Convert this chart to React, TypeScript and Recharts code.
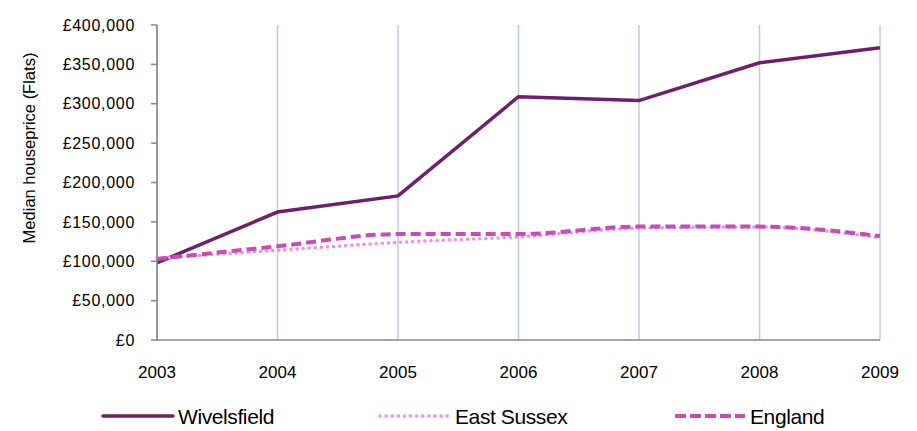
import React from 'react';
import {
  LineChart,
  Line,
  XAxis,
  YAxis,
  CartesianGrid,
  Legend,
  Label,
} from 'recharts';

const YEARS = ['2003', '2004', '2005', '2006', '2007', '2008', '2009'];
const WIVELSFIELD = [98000, 162500, 183000, 309000, 304000, 352000, 371000];
const EAST_SUSSEX = [104000, 114000, 124000, 131000, 142000, 143500, 130000];
const ENGLAND = [103000, 119000, 134500, 134500, 144000, 144000, 132000];
const Y_TICKS = [0, 50000, 100000, 150000, 200000, 250000, 300000, 350000, 400000];

const data = YEARS.map((year, i) => ({
  year,
  wivelsfield: WIVELSFIELD[i],
  eastSussex: EAST_SUSSEX[i],
  england: ENGLAND[i],
}));

const FONT = '"Liberation Sans", Arial, sans-serif';
const AXIS = '#868686';

const SERIES = [
  { key: 'wivelsfield', name: 'Wivelsfield', color: '#6E1F6C', width: 3.5, dash: undefined as string | undefined, cap: 'round', x: 103 },
  { key: 'eastSussex', name: 'East Sussex', color: '#F48AEE', width: 3.5, dash: '0.1 6', cap: 'round', x: 380 },
  { key: 'england', name: 'England', color: '#C94BB6', width: 4, dash: '11 4', cap: 'butt', x: 675 },
];

const money = (v: number) => '£' + v.toLocaleString('en-GB');

function renderLegend() {
  return (
    <svg width={917} height={30}>
      {SERIES.map((s) => (
        <g key={s.key}>
          <line
            x1={s.x}
            x2={s.x + 70}
            y1={16}
            y2={16}
            stroke={s.color}
            strokeWidth={s.width}
            strokeDasharray={s.dash}
            strokeLinecap={s.cap as 'round' | 'butt'}
          />
          <text
            x={s.x + 75}
            y={16}
            dy="0.36em"
            fontSize={21}
            letterSpacing={-0.4}
            fontFamily={FONT}
            fill="#000"
          >
            {s.name}
          </text>
        </g>
      ))}
    </svg>
  );
}

export default function App() {
  return (
    <div style={{ position: 'absolute', left: 0, top: 0, background: '#fff' }}>
      <LineChart
        width={917}
        height={431}
        data={data}
        margin={{ top: 25, right: 37, left: 0, bottom: 1 }}
      >
        <CartesianGrid horizontal={false} stroke="#B9CDE5" strokeWidth={1.5} />
        <XAxis
          dataKey="year"
          height={60}
          stroke={AXIS}
          strokeWidth={1.5}
          tickLine={false}
          tickSize={0}
          tickMargin={26}
          tick={{ fill: '#000', fontSize: 17, fontFamily: FONT }}
          interval={0}
        />
        <YAxis
          width={157}
          domain={[0, 400000]}
          ticks={Y_TICKS}
          tickFormatter={money}
          stroke={AXIS}
          strokeWidth={1.5}
          tickSize={6}
          tickMargin={16}
          tick={{ fill: '#000', fontSize: 16, fontFamily: FONT, letterSpacing: 0.7 }}
        >
          <Label
            content={() => (
              <text
                x={29}
                y={148}
                transform="rotate(-90 29 148)"
                textAnchor="middle"
                dominantBaseline="central"
                fontSize={16.5}
                fontFamily={FONT}
                fill="#000"
              >
                Median houseprice (Flats)
              </text>
            )}
          />
        </YAxis>
        <Legend
          content={renderLegend}
          wrapperStyle={{ position: 'absolute', left: 0, top: 400, width: 917, height: 30 }}
        />
        <Line
          dataKey="wivelsfield"
          name="Wivelsfield"
          type="linear"
          stroke={SERIES[0].color}
          strokeWidth={3.5}
          dot={false}
          isAnimationActive={false}
        />
        <Line
          dataKey="eastSussex"
          name="East Sussex"
          type="monotone"
          stroke={SERIES[1].color}
          strokeWidth={3.5}
          strokeDasharray="0.1 6"
          strokeLinecap="round"
          dot={false}
          isAnimationActive={false}
        />
        <Line
          dataKey="england"
          name="England"
          type="monotone"
          stroke={SERIES[2].color}
          strokeWidth={4}
          strokeDasharray="10 5"
          dot={false}
          isAnimationActive={false}
        />
      </LineChart>
    </div>
  );
}
